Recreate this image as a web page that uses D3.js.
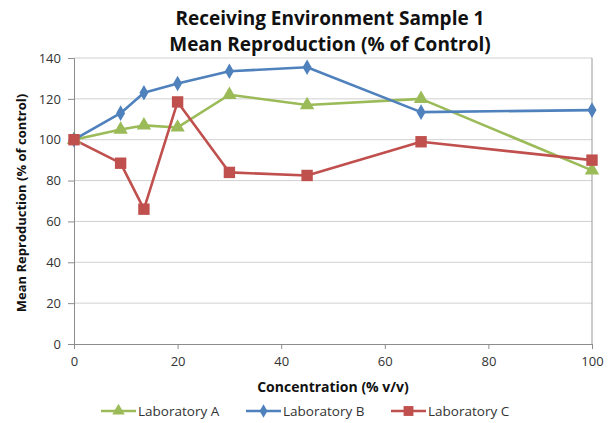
<!DOCTYPE html>
<html>
<head>
<meta charset="utf-8">
<script src="https://cdn.jsdelivr.net/npm/d3@7/dist/d3.min.js"></script>
<style>
  html, body { margin: 0; padding: 0; background: #fff; }
  svg { display: block; font-family: "Open Sans", Carlito, Calibri, sans-serif; }
</style>
</head>
<body>
<svg id="chart" width="608" height="423"></svg>
<script>
// Concentrations tested (% v/v)
const concentrations = [0, 9, 13.5, 20, 30, 45, 67, 100];
// Mean reproduction, % of control, per laboratory
const labA = [100, 105, 107, 106, 122, 117, 120, 85];
const labB = [100, 113, 123, 127.5, 133.5, 135.5, 113.5, 114.5];
const labC = [100, 88.5, 66, 118.5, 84, 82.5, 99, 90];
const seriesNames = ["Laboratory A", "Laboratory B", "Laboratory C"];
const xTicks = [0, 20, 40, 60, 80, 100];
const yTicks = [0, 20, 40, 60, 80, 100, 120, 140];

const series = [
  { name: seriesNames[0], values: labA, color: "#9bbb59", symbol: d3.symbolTriangle, size: 90 },
  { name: seriesNames[1], values: labB, color: "#4f81bd", symbol: d3.symbolDiamond, size: 70 },
  { name: seriesNames[2], values: labC, color: "#c0504d", symbol: d3.symbolSquare, size: 130 }
];

const svg = d3.select("#chart");
const m = { left: 74, right: 592, top: 58, bottom: 344 };

const x = d3.scaleLinear().domain([0, 100]).range([m.left, m.right]);
const y = d3.scaleLinear().domain([0, 140]).range([m.bottom, m.top]);

// Horizontal gridlines
svg.append("g")
  .selectAll("line")
  .data(yTicks.filter(v => v > 0))
  .join("line")
  .attr("x1", m.left).attr("x2", m.right)
  .attr("y1", d => y(d)).attr("y2", d => y(d))
  .attr("stroke", "#d0d0d0").attr("stroke-width", 1);

// Right border of the plot area
svg.append("line")
  .attr("x1", m.right).attr("x2", m.right)
  .attr("y1", m.top).attr("y2", m.bottom)
  .attr("stroke", "#9a9a9a").attr("stroke-width", 1);

// Axes
const xAxis = svg.append("g")
  .attr("transform", `translate(0,${m.bottom})`)
  .call(d3.axisBottom(x).tickValues(xTicks).tickSize(5).tickPadding(8).tickFormat(d3.format("d")));
const yAxis = svg.append("g")
  .attr("transform", `translate(${m.left},0)`)
  .call(d3.axisLeft(y).tickValues(yTicks).tickSize(6).tickPadding(7).tickFormat(d3.format("d")));

[xAxis, yAxis].forEach(g => {
  g.select(".domain").attr("stroke", "#8c8c8c");
  g.selectAll(".tick line").attr("stroke", "#8c8c8c");
  g.selectAll(".tick text").attr("fill", "#333").style("font-size", "13px")
    .style("font-family", "'Open Sans', Carlito, Calibri, sans-serif");
});

// Series lines and markers
const line = d3.line()
  .x((d, i) => x(concentrations[i]))
  .y(d => y(d));

series.forEach(s => {
  svg.append("path")
    .datum(s.values)
    .attr("d", line)
    .attr("fill", "none")
    .attr("stroke", s.color)
    .attr("stroke-width", 2.6)
    .attr("stroke-linejoin", "round");
});

series.forEach(s => {
  svg.append("g")
    .selectAll("path")
    .data(s.values)
    .join("path")
    .attr("d", d3.symbol(s.symbol, s.size))
    .attr("transform", (d, i) => `translate(${x(concentrations[i])},${y(d)})`)
    .attr("fill", s.color);
});

// Title
const title = svg.append("text")
  .attr("text-anchor", "middle")
  .attr("font-weight", "bold")
  .style("font-size", "19px")
  .attr("fill", "#111");
title.append("tspan").attr("x", 330).attr("y", 25).text("Receiving Environment Sample 1");
title.append("tspan").attr("x", 330).attr("y", 51).text("Mean Reproduction (% of Control)");

// Axis titles
svg.append("text")
  .attr("x", 333).attr("y", 392)
  .attr("text-anchor", "middle")
  .attr("font-weight", "bold")
  .style("font-size", "14px")
  .attr("fill", "#111")
  .text("Concentration (% v/v)");

svg.append("text")
  .attr("transform", "translate(26,203) rotate(-90)")
  .attr("text-anchor", "middle")
  .attr("font-weight", "bold")
  .style("font-size", "13px")
  .attr("fill", "#111")
  .text("Mean Reproduction (% of control)");

// Legend
const legendX = [101, 246, 391];
const legend = svg.append("g");
series.forEach((s, i) => {
  const g = legend.append("g").attr("transform", `translate(${legendX[i]},411)`);
  g.append("line").attr("x1", 0).attr("x2", 35).attr("y1", 0).attr("y2", 0)
    .attr("stroke", s.color).attr("stroke-width", 2.6);
  g.append("path").attr("d", d3.symbol(s.symbol, s.size * 0.75))
    .attr("transform", "translate(17.5,0)").attr("fill", s.color);
  g.append("text").attr("x", 37).attr("y", 5)
    .style("font-size", "13.5px").attr("fill", "#333").text(s.name);
});
</script>
</body>
</html>
